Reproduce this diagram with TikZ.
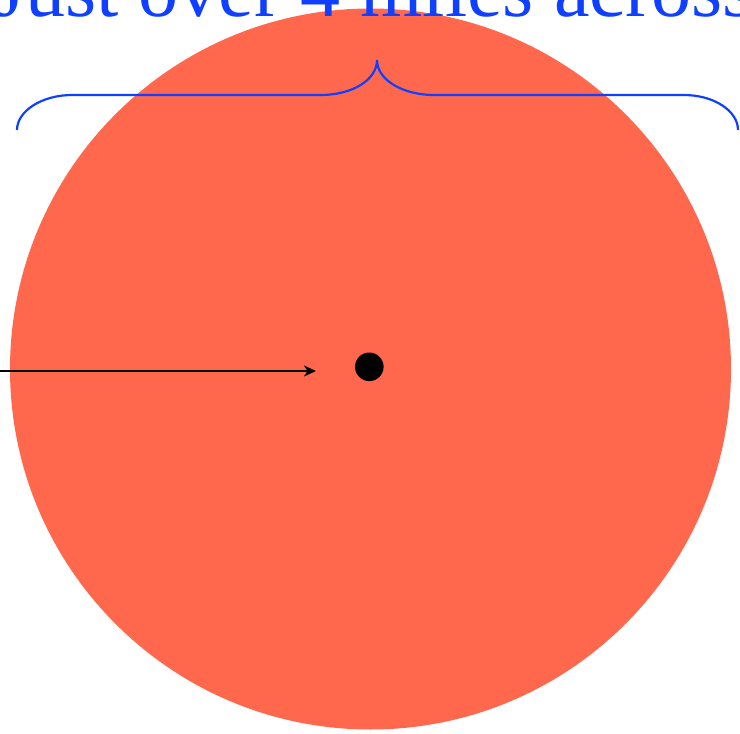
\documentclass[tikz,border=0pt]{standalone}
\usepackage{fontspec}
\setmainfont{Liberation Serif}
\usetikzlibrary{arrows.meta}
\definecolor{sun}{HTML}{FF684C}
\definecolor{bracecol}{HTML}{1040FF}
\tikzset{
  disc/.style={circle, fill=sun, draw=none, inner sep=0pt, minimum size=721pt},
  centerdot/.style={circle, fill=black, draw=none, inner sep=0pt, minimum size=28.6pt},
  pointer/.style={line width=2.9pt, -{Stealth[length=12pt, width=11pt, inset=3.5pt]}},
  bracestyle/.style={draw=bracecol, line width=2.2pt},
  title/.style={text=bracecol, font=\fontsize{80}{96}\selectfont, anchor=base, inner sep=0pt}
}
\begin{document}
\begin{tikzpicture}[x=1pt,y=-1pt]
\useasboundingbox (0,0) rectangle (740,734);
\clip (0,0) rectangle (740,734);
\node[disc] (sun) at (370.5,369) {};
\node[centerdot] (core) at (369.3,366.8) {};
\coordinate (arrowstart) at (-5,371);
\coordinate (arrowend) at (316,371);
\draw[pointer] (arrowstart) -- (arrowend);
\coordinate (bl) at (17,130);
\coordinate (br) at (738,130);
\coordinate (tip) at (377,60);
\draw[bracestyle] (bl) .. controls (17,111) and (42,95) .. (72,95) -- (321,95)
  .. controls (352,95) and (377,80) .. (tip)
  .. controls (377,80) and (403,95) .. (434,95) -- (684,95)
  .. controls (714,95) and (738,111) .. (br);
\node[title] (label) at (374,16.5) {Just over 4 miles across};
\end{tikzpicture}
\end{document}
